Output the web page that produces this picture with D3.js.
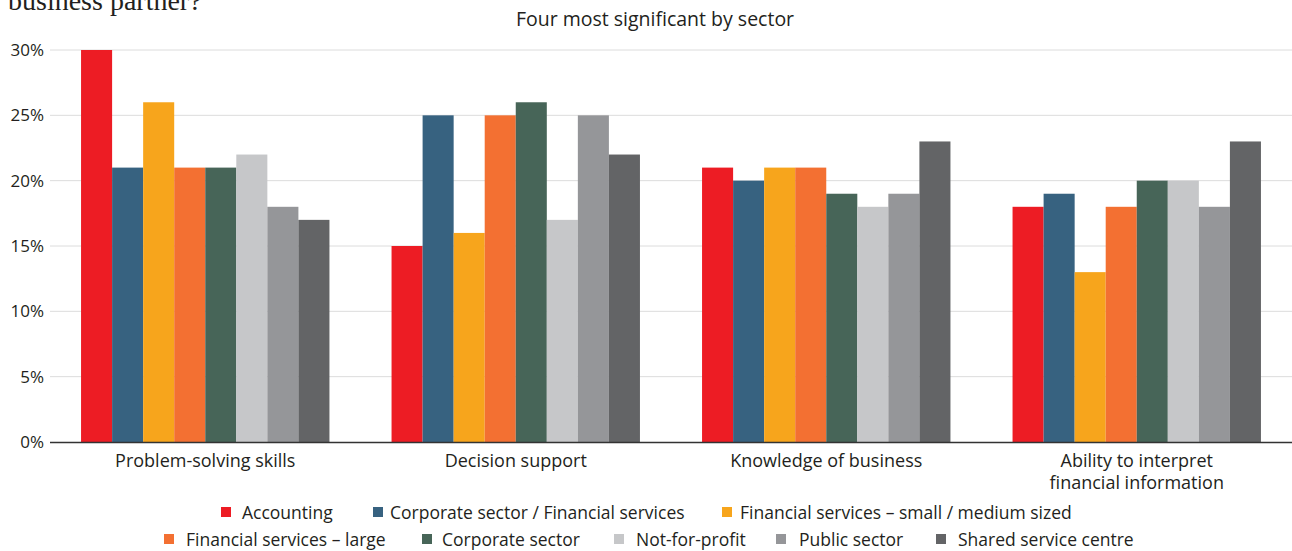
<!DOCTYPE html>
<html><head><meta charset="utf-8">
<script src="https://cdn.jsdelivr.net/npm/d3@7"></script>
<style>body{margin:0;background:#fff}svg{display:block}text{font-family:"Open Sans",Lato,sans-serif;fill:#231f20}</style>
</head><body><svg id="c" width="1292" height="551"></svg>
<script>
const categories = ["Problem-solving skills","Decision support","Knowledge of business","Ability to interpret\nfinancial information"];
const seriesNames = ["Accounting","Corporate sector / Financial services","Financial services – small / medium sized","Financial services – large","Corporate sector","Not-for-profit","Public sector","Shared service centre"];
const accounting = [30,15,21,18];
const corpFin = [21,25,20,19];
const finSmall = [26,16,21,13];
const finLarge = [21,25,21,18];
const corporate = [21,26,19,20];
const notForProfit = [22,17,18,20];
const publicSector = [18,25,19,18];
const sharedService = [17,22,23,23];
const yTicks = [0,5,10,15,20,25,30];
const colors = ["#ED1C24","#376280","#F7A51C","#F37032","#476558","#C6C7C9","#959699","#636466"];
const values = [accounting,corpFin,finSmall,finLarge,corporate,notForProfit,publicSector,sharedService];

const svg = d3.select("#c");
const mLeft = 50, mRight = 1292, mTop = 50, mBottom = 442;
const x0 = d3.scaleBand().domain(categories).range([mLeft,mRight]).paddingInner(0.2).paddingOuter(0.1);
const x1 = d3.scaleBand().domain(seriesNames).range([0,x0.bandwidth()]);
const y = d3.scaleLinear().domain([0,30]).range([mBottom,mTop]);

// partial heading (cut off at the top, as in the source)
svg.append("text").attr("x",8).attr("y",10).style("font-family","'Liberation Serif',serif").style("font-size","28px").style("fill","#231f20").text("business partner?");
svg.append("text").attr("x",655).attr("y",26).attr("text-anchor","middle").style("font-size","19.5px").text("Four most significant by sector");

// grid
svg.append("g").selectAll("line").data(yTicks.filter(d=>d>0)).join("line")
  .attr("x1",mLeft).attr("x2",mRight).attr("y1",d=>y(d)).attr("y2",d=>y(d))
  .attr("stroke","#dcdcdc").attr("stroke-width",1);
// y labels
const ya = svg.append("g").attr("transform",`translate(${mLeft},0)`).call(d3.axisLeft(y).tickValues(yTicks).tickFormat(d=>d+"%").tickSize(0).tickPadding(6));
ya.select(".domain").remove();
ya.selectAll("text").style("font-size","17px").style("font-family","'Open Sans',sans-serif").attr("fill","#333");

// bars
const g = svg.append("g");
categories.forEach((c,ci)=>{
  g.append("g").attr("transform",`translate(${x0(c)},0)`).selectAll("rect")
   .data(seriesNames.map((s,si)=>({s,v:values[si][ci],col:colors[si]}))).join("rect")
   .attr("x",d=>x1(d.s)).attr("width",x1.bandwidth()).attr("y",d=>y(d.v)).attr("height",d=>y(0)-y(d.v)).attr("fill",d=>d.col);
});
// baseline
svg.append("line").attr("x1",mLeft).attr("x2",mRight).attr("y1",y(0)+0.5).attr("y2",y(0)+0.5).attr("stroke","#333").attr("stroke-width",1.5);

// category labels
categories.forEach(c=>{
  const t = svg.append("text").attr("x",x0(c)+x0.bandwidth()/2).attr("y",467).attr("text-anchor","middle").style("font-size","18px");
  c.split("\n").forEach((l,i)=>t.append("tspan").attr("x",x0(c)+x0.bandwidth()/2).attr("dy",i?22:0).text(l));
});

// legend
const legendPos = [[221,242,519],[373,390,519],[722,740,519],[164,186,546],[422,442,546],[614,636,546],[776,799,546],[936,958,546]];
seriesNames.forEach((s,i)=>{
  const [sx,tx,ty] = legendPos[i];
  svg.append("rect").attr("x",sx).attr("y",ty-12).attr("width",10).attr("height",10).attr("fill",colors[i]);
  svg.append("text").attr("x",tx).attr("y",ty).style("font-size","17.5px").text(s);
});
</script></body></html>
